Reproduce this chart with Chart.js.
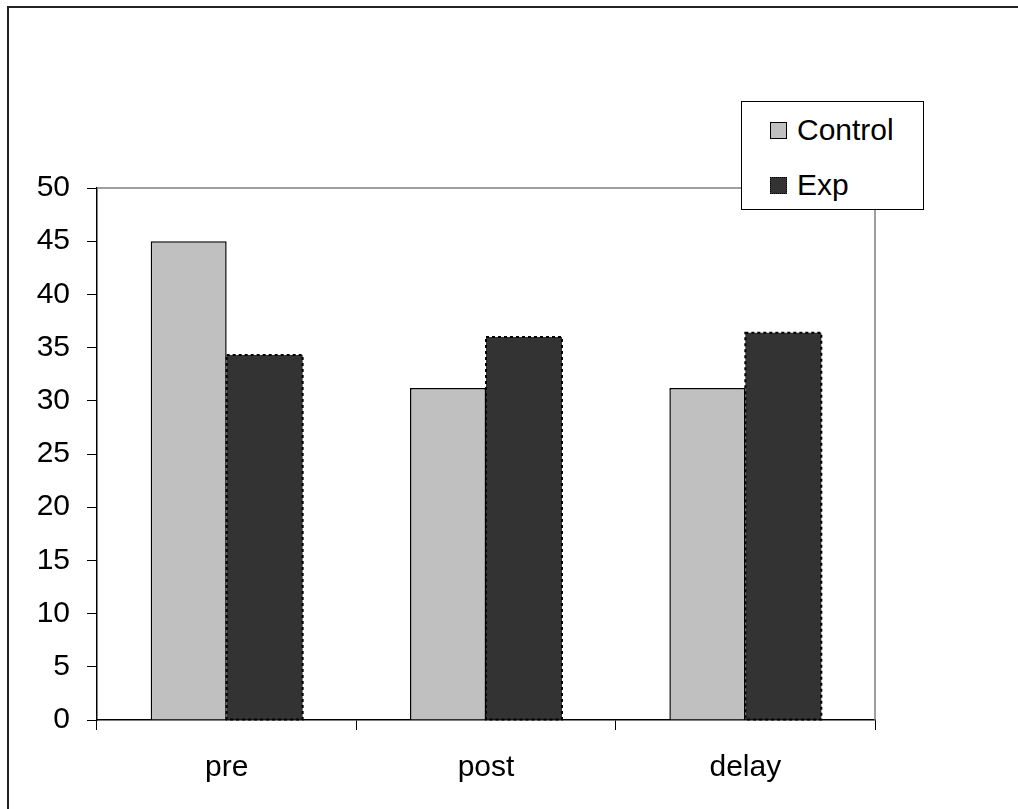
<!DOCTYPE html>
<html>
<head>
    <title>Control vs Exp</title>
    <script src="https://cdn.jsdelivr.net/npm/chart.js"></script>
    <style>
        body {
            margin: 0;
            background: #ffffff;
            font-family: "Liberation Sans", Arial, sans-serif;
        }

        .wrap {
            position: relative;
            width: 1018px;
            height: 809px;
        }

        .frame {
            position: absolute;
            left: 7px;
            top: 6px;
            width: 1011px;
            height: 803px;
            border-left: 2px solid #222;
            border-top: 2px solid #222;
        }

        .legend {
            position: absolute;
            left: 741px;
            top: 101px;
            width: 181px;
            height: 107px;
            border: 1px solid #000;
            background: #ffffff;
            z-index: 2;
        }

        .legend .row {
            position: absolute;
            left: 28px;
            height: 34px;
            display: flex;
            align-items: center;
            font-size: 30px;
            color: #000;
        }

        .legend .sw {
            width: 15px;
            height: 15px;
            margin-right: 10px;
        }
    </style>
</head>
<body>
    <div class="wrap">
        <div class="frame"></div>
        <canvas id="chart" width="1018" height="809"></canvas>
        <div class="legend">
            <div class="row" style="top: 11px;">
                <span class="sw" style="background:#c0c0c0; border:1px solid #000;"></span>Control
            </div>
            <div class="row" style="top: 66px;">
                <span class="sw" style="background:#333333; border:1px dotted #000;"></span>Exp
            </div>
        </div>
    </div>

    <script>
        const categories = ['pre', 'post', 'delay'];
        const controlValues = [45, 31.2, 31.2];
        const expValues = [34.3, 36, 36.4];
        const yTicks = [0, 5, 10, 15, 20, 25, 30, 35, 40, 45, 50];

        // gray top and right edge of the plot area
        const plotFrame = {
            id: 'plotFrame',
            afterDraw(chart) {
                const { ctx, chartArea } = chart;
                ctx.save();
                ctx.strokeStyle = '#808080';
                ctx.lineWidth = 1.5;
                ctx.beginPath();
                ctx.moveTo(chartArea.left, chartArea.top);
                ctx.lineTo(chartArea.right, chartArea.top);
                ctx.lineTo(chartArea.right, chartArea.bottom);
                ctx.stroke();
                ctx.restore();
            }
        };

        // dotted outline for the Exp bars
        const dottedBars = {
            id: 'dottedBars',
            afterDatasetsDraw(chart) {
                const meta = chart.getDatasetMeta(1);
                const ctx = chart.ctx;
                ctx.save();
                ctx.strokeStyle = '#000';
                ctx.lineWidth = 2;
                ctx.setLineDash([3, 3]);
                meta.data.forEach(bar => {
                    const p = bar.getProps(['x', 'y', 'base', 'width'], true);
                    ctx.strokeRect(p.x - p.width / 2, p.y, p.width, p.base - p.y);
                });
                ctx.restore();
            }
        };

        const ctx = document.getElementById('chart').getContext('2d');
        new Chart(ctx, {
            type: 'bar',
            data: {
                labels: categories,
                datasets: [{
                    label: 'Control',
                    data: controlValues,
                    backgroundColor: '#c0c0c0',
                    borderColor: '#000',
                    borderWidth: 1.5
                }, {
                    label: 'Exp',
                    data: expValues,
                    backgroundColor: '#333333',
                    borderWidth: 0
                }]
            },
            options: {
                responsive: false,
                animation: false,
                layout: {
                    padding: { left: 0, top: 188, right: 143, bottom: 0 }
                },
                datasets: {
                    bar: {
                        categoryPercentage: 0.586,
                        barPercentage: 1
                    }
                },
                plugins: {
                    legend: { display: false },
                    tooltip: { enabled: false }
                },
                scales: {
                    x: {
                        grid: {
                            offset: true,
                            drawOnChartArea: false,
                            drawTicks: true,
                            tickLength: 10,
                            color: '#000'
                        },
                        border: { color: '#000', width: 1.5 },
                        ticks: {
                            color: '#000',
                            padding: 20,
                            font: { family: 'Liberation Sans', size: 30 }
                        },
                        afterFit(scale) { scale.height = 89; }
                    },
                    y: {
                        min: 0,
                        max: 50,
                        afterBuildTicks(scale) {
                            scale.ticks = yTicks.map(v => ({ value: v }));
                        },
                        grid: {
                            drawOnChartArea: false,
                            drawTicks: true,
                            tickLength: 10,
                            color: '#000'
                        },
                        border: { color: '#000', width: 1.5 },
                        ticks: {
                            color: '#000',
                            padding: 17,
                            font: { family: 'Liberation Sans', size: 30 }
                        },
                        afterFit(scale) { scale.width = 97; }
                    }
                }
            },
            plugins: [plotFrame, dottedBars]
        });
    </script>
</body>
</html>
